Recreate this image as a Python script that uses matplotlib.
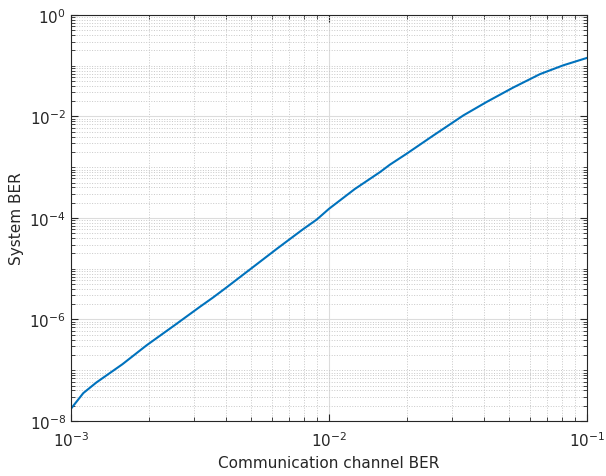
import numpy as np
import matplotlib
matplotlib.use('Agg')
import matplotlib.pyplot as plt
from matplotlib.ticker import LogLocator, FixedLocator, NullFormatter

# channel BER vs resulting system BER
channel_ber = [0.001, 0.001059, 0.001117, 0.001256, 0.001585, 0.001963, 0.002512,
               0.003162, 0.003548, 0.003981, 0.005012, 0.00631, 0.007943, 0.008974,
               0.01, 0.01259, 0.01578, 0.01722, 0.02, 0.02541, 0.0332, 0.04083,
               0.05176, 0.06577, 0.08091, 0.1]
system_ber = [1.738e-8, 2.512e-8, 3.548e-8, 5.754e-8, 1.318e-7, 3.09e-7, 7.59e-7,
              1.778e-6, 2.692e-6, 4.169e-6, 1.023e-5, 2.512e-5, 6.026e-5, 9.333e-5,
              1.514e-4, 3.715e-4, 8.035e-4, 1.122e-3, 1.845e-3, 4.236e-3, 1.052e-2,
              1.932e-2, 3.715e-2, 6.839e-2, 0.1019, 0.1426]

x_ticks = [1e-3, 1e-2, 1e-1]
x_labels = ['$10^{-3}$', '$10^{-2}$', '$10^{-1}$']
y_ticks = [1e-8, 1e-6, 1e-4, 1e-2, 1e0]
y_labels = ['$10^{-8}$', '$10^{-6}$', '$10^{-4}$', '$10^{-2}$', '$10^{0}$']

plt.rcParams['font.family'] = 'DejaVu Sans'
plt.rcParams['mathtext.default'] = 'regular'

fig = plt.figure(figsize=(6.06, 4.77), dpi=100)
ax = fig.add_axes([0.117, 0.1153, 0.8516, 0.8512])

ax.loglog(channel_ber, system_ber, color='#0072BD', linewidth=1.5)
ax.set_xlim(1e-3, 1e-1)
ax.set_ylim(1e-8, 1e0)

ax.xaxis.set_major_locator(FixedLocator(x_ticks))
ax.set_xticklabels(x_labels)
ax.xaxis.set_minor_locator(LogLocator(base=10, subs=np.arange(2, 10)))
ax.xaxis.set_minor_formatter(NullFormatter())

ax.yaxis.set_major_locator(FixedLocator(y_ticks))
ax.set_yticklabels(y_labels)
ax.yaxis.set_minor_locator(LogLocator(base=10, subs=np.arange(1, 10), numticks=100))
ax.yaxis.set_minor_formatter(NullFormatter())

ax.grid(True, which='major', color='#dcdcdc', linestyle='-', linewidth=0.8)
ax.grid(True, which='minor', color='#c8c8c8', linestyle=':', linewidth=0.7)
ax.set_axisbelow(True)

ax.tick_params(which='both', direction='in', top=True, right=True, colors='#262626',
               labelsize=11)
ax.tick_params(axis='x', which='major', pad=7)
ax.tick_params(which='major', length=5)
ax.tick_params(which='minor', length=3)
for s in ax.spines.values():
    s.set_color('#262626')
    s.set_linewidth(0.8)

ax.set_xlabel('Communication channel BER', fontsize=11, color='#262626')
ax.set_ylabel('System BER', fontsize=11, color='#262626')

fig.savefig('out.png', dpi=100)
